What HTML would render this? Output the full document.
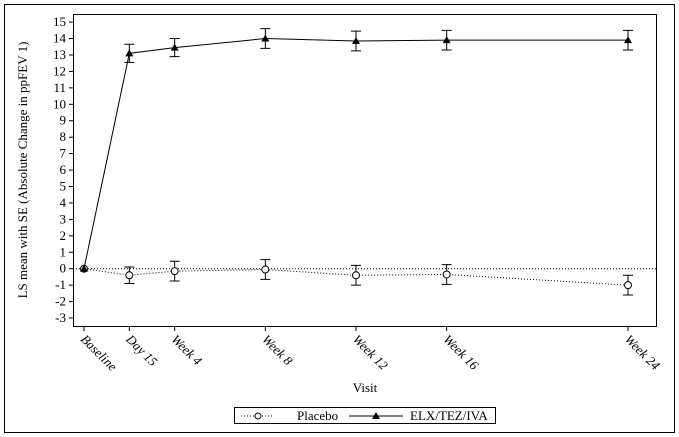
<!DOCTYPE html>
<html><head><meta charset="utf-8"><style>
body{margin:0;background:#fff}
svg{display:block;font-family:"Liberation Serif",serif}
</style></head><body>
<svg id="c" width="679" height="437">
<rect x="4.5" y="4.5" width="670" height="428" fill="none" stroke="#000"/>
<rect x="73.5" y="14.5" width="583" height="312" fill="none" stroke="#000"/>
<g id="g"></g>
<text x="0" y="0" transform="translate(27,170) rotate(-90)" text-anchor="middle" font-size="13">LS mean with SE (Absolute Change in ppFEV 1)</text>
<text x="365" y="392" text-anchor="middle" font-size="13">Visit</text>
<g>
<rect x="234.5" y="407.5" width="261" height="16" fill="none" stroke="#000"/>
<g>
<line x1="241" y1="416" x2="274" y2="416" stroke="#000" stroke-dasharray="1,2"/>
<circle cx="258" cy="416" r="3" fill="#fff" stroke="#000"/>
<text x="297" y="420" font-size="13">Placebo</text>
</g>
<g>
<line x1="349" y1="416" x2="403" y2="416" stroke="#000"/>
<path d="M376 412 L380 419 L372 419 Z" fill="#000"/>
<text x="410" y="420" font-size="13">ELX/TEZ/IVA</text>
</g>
</g>
</svg>
<script>
const visits=["Baseline","Day 15","Week 4","Week 8","Week 12","Week 16","Week 24"];
const visitWeeks=[0,2,4,8,12,16,24];
const elxMean=[0,13.1,13.45,14.0,13.85,13.9,13.9];
const elxSE=[0,0.55,0.55,0.6,0.6,0.6,0.6];
const pboMean=[0,-0.4,-0.15,-0.05,-0.4,-0.35,-1.0];
const pboSE=[0,0.5,0.6,0.6,0.6,0.6,0.6];
const yTicks=[15,14,13,12,11,10,9,8,7,6,5,4,3,2,1,0,-1,-2,-3];
const NS="http://www.w3.org/2000/svg";
const g=document.getElementById('g');
const xs=w=>84+w*(628-84)/24;
const ys=v=>268.7-v*16.44;
function mk(t,a,p){const e=document.createElementNS(NS,t);for(const k in a)e.setAttribute(k,a[k]);(p||g).appendChild(e);return e;}
yTicks.forEach(v=>{
 const t=mk('line',{x1:69,x2:73,y1:ys(v),y2:ys(v),stroke:'#000'});
 
 
 const l=mk('text',{x:66,y:ys(v)+4,'text-anchor':'end','font-size':13});
 l.textContent=v;
 
 
});
mk('line',{x1:73,x2:656,y1:ys(0),y2:ys(0),stroke:'#000','stroke-dasharray':'1,2'});
visits.forEach((n,i)=>{
 const x=xs(visitWeeks[i]);
 const t=mk('line',{x1:x,x2:x,y1:327,y2:331,stroke:'#000'});
 
 
 const l=mk('text',{x:0,y:0,transform:`translate(${x-4},${340}) rotate(45)`,'font-size':13,'font-style':'italic'});
 l.textContent=n;
 
 
});
function series(m,se,dash,name,marker){
 const pts=m.map((v,i)=>xs(visitWeeks[i])+','+ys(v)).join(' ');
 const pl=mk('polyline',{points:pts,fill:'none',stroke:'#000','stroke-dasharray':dash||'none'});
 
 
 m.forEach((v,i)=>{
  const x=xs(visitWeeks[i]);
  if(se[i]>0){
   const e=mk('path',{d:`M${x-5} ${ys(v+se[i])}H${x+5}M${x} ${ys(v+se[i])}V${ys(v-se[i])}M${x-5} ${ys(v-se[i])}H${x+5}`,stroke:'#000',fill:'none'});
   
   
  }
  const y=ys(v);
  let p;
  if(marker==='c')p=mk('circle',{cx:x,cy:y,r:3.5,fill:'#fff',stroke:'#000'});
  else p=mk('path',{d:`M${x} ${y-4}L${x+4} ${y+3}L${x-4} ${y+3}Z`,fill:'#000'});
  
  
 });
}
series(pboMean,pboSE,'1,2','placebo','c');
series(elxMean,elxSE,null,'elx','t');
</script>
</body></html>
